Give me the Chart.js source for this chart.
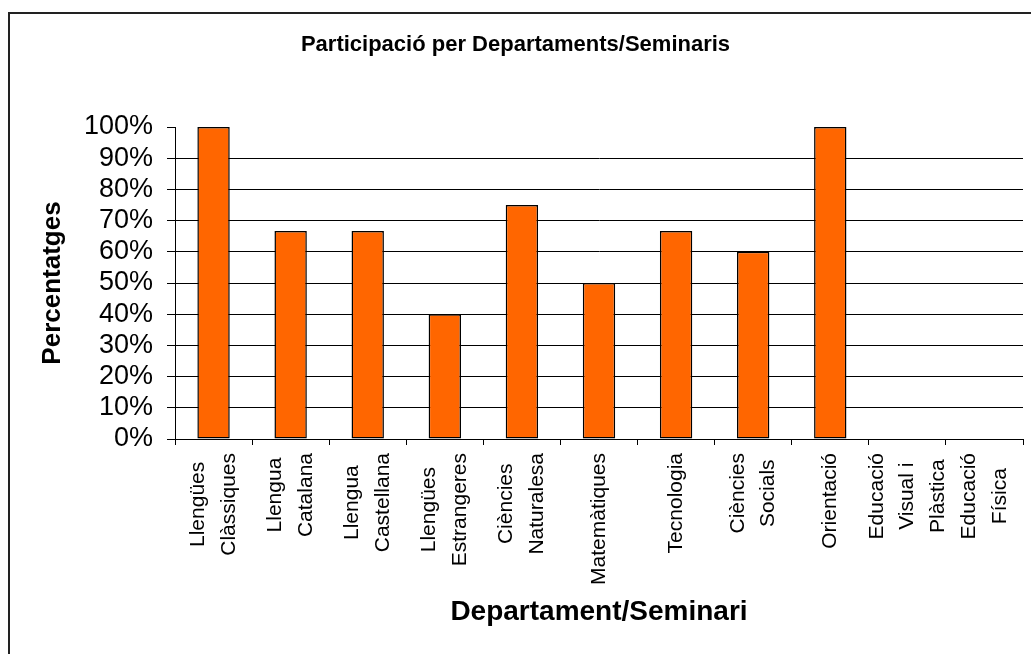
<!DOCTYPE html>
<html>
<head>
<meta charset="utf-8">
<script src="https://cdn.jsdelivr.net/npm/chart.js@4/dist/chart.umd.min.js"></script>
<style>
  html, body { margin: 0; padding: 0; background: #fff; }
  #wrap { width: 1031px; height: 654px; position: relative; }
</style>
</head>
<body>
<div id="wrap"><canvas id="c-part"></canvas></div>
<script>
// === DATA ===
const categories = [
    ['Llengües', 'Clàssiques'],
    ['Llengua', 'Catalana'],
    ['Llengua', 'Castellana'],
    ['Llengües', 'Estrangeres'],
    ['Ciències', 'Naturalesa'],
    'Matemàtiques',
    'Tecnologia',
    ['Ciències', 'Socials'],
    'Orientació',
    ['Educació', 'Visual i', 'Plàstica'],
    ['Educació', 'Física']
];
const participacio = [100, 66.7, 66.7, 40, 75, 50, 66.7, 60, 100, 0, 0];
const yMax = 100;
const yStep = 10;

const FONT = '"Liberation Sans", Arial, Helvetica, sans-serif';
Chart.defaults.font.family = FONT;
Chart.defaults.color = '#000';

// === PLUGINS ===
// outer frame of the chart object (cut off on right and bottom)
const frame = {
    id: 'frame',
    beforeDraw(chart) {
        const ctx = chart.ctx;
        ctx.save();
        ctx.fillStyle = '#fff';
        ctx.fillRect(0, 0, chart.width, chart.height);
        ctx.strokeStyle = '#222';
        ctx.lineWidth = 2;
        ctx.strokeRect(9, 13, chart.width + 40, chart.height + 40);
        ctx.restore();
    }
};

// category labels: rotated, lines centred inside each block
const catLabels = {
    id: 'catLabels',
    afterDraw(chart) {
        const s = chart.scales.x, ctx = chart.ctx;
        const lineGap = 30.5;
        ctx.save();
        ctx.font = '21px ' + FONT;
        ctx.fillStyle = '#000';
        ctx.textAlign = 'center';
        ctx.textBaseline = 'middle';
        s.ticks.forEach((t, i) => {
            const lines = [].concat(categories[i]);
            const maxW = Math.max(...lines.map(l => ctx.measureText(l).width));
            const x0 = s.getPixelForTick(i) - (lines.length - 1) * lineGap / 2;
            lines.forEach((ln, j) => {
                ctx.save();
                ctx.translate(x0 + j * lineGap, s.top + 14 + maxW / 2);
                ctx.rotate(-Math.PI / 2);
                ctx.fillText(ln, 0, 0);
                ctx.restore();
            });
        });
        ctx.restore();
    }
};

// === CHART ===
new Chart(document.getElementById('c-part'), {
    type: 'bar',
    data: {
        labels: categories,
        datasets: [{
            label: 'Participació',
            data: participacio,
            backgroundColor: '#FF6600',
            borderColor: '#000',
            borderWidth: 1.5,
            borderSkipped: false,
            barPercentage: 0.42,
            categoryPercentage: 1.0
        }]
    },
    options: {
        responsive: true,
        maintainAspectRatio: false,
        animation: false,
        layout: { padding: { left: 0, right: 0, top: 0, bottom: 0 } },
        plugins: {
            legend: { display: false },
            tooltip: { enabled: false },
            title: {
                display: true,
                text: 'Participació per Departaments/Seminaris',
                color: '#000',
                font: { size: 22, weight: 'bold' },
                padding: { top: 32, bottom: 68.6 }
            }
        },
        scales: {
            x: {
                afterFit: s => { s.height = 215; s.paddingRight = 8; s.paddingLeft = 0; },
                grid: { drawOnChartArea: false, drawTicks: true, tickLength: 6, color: '#000', lineWidth: 1 },
                border: { color: '#000', width: 1 },
                ticks: { color: 'rgba(0,0,0,0)', minRotation: 90, maxRotation: 90, autoSkip: false, font: { size: 21 } },
                title: {
                    display: true,
                    text: 'Departament/Seminari',
                    color: '#000',
                    font: { size: 28, weight: 'bold' },
                    padding: { top: 0, bottom: 25 }
                }
            },
            y: {
                min: 0,
                max: yMax,
                afterFit: s => { s.width = 175; },
                grid: {
                    color: ctx => ctx.tick && ctx.tick.value === yMax ? 'rgba(0,0,0,0)' : '#000',
                    tickColor: '#000',
                    tickLength: 8,
                    lineWidth: 1
                },
                border: { color: '#000', width: 1 },
                ticks: {
                    stepSize: yStep,
                    maxTicksLimit: 20,
                    autoSkip: false,
                    padding: 14,
                    color: '#000',
                    font: { size: 27, lineHeight: 0.9 },
                    callback: v => v + '%'
                },
                title: {
                    display: true,
                    text: 'Percentatges',
                    color: '#000',
                    font: { size: 26, weight: 'bold' },
                    padding: { top: 37, bottom: 0 }
                }
            }
        }
    },
    plugins: [frame, catLabels]
});
</script>
</body>
</html>
